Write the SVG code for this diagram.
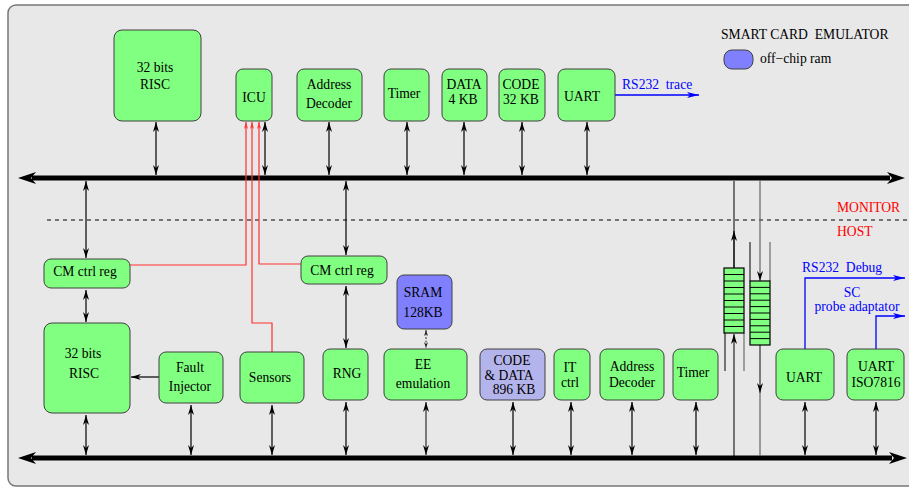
<svg xmlns="http://www.w3.org/2000/svg" width="909" height="488" viewBox="0 0 909 488">
<defs>
<style>
.n{fill:#80ff80;stroke:#404040;stroke-width:1}
.b{fill:#8080ff;stroke:#404040;stroke-width:1}
.l{fill:#b4b4ec;stroke:#404040;stroke-width:1}
text{font-family:"Liberation Serif","Times New Roman",serif;font-size:13.6px;fill:#000}
.c{text-anchor:middle}
.red{fill:#ff0000}
.blue{fill:#0000ff}
.a{stroke:#000;stroke-width:1.2;fill:none;marker-start:url(#ah);marker-end:url(#ah)}
.rl{stroke:#ff3030;stroke-width:1.2;fill:none}
.bl{stroke:#0000ff;stroke-width:1.3;fill:none;marker-end:url(#bh)}
.bus{stroke:#000;stroke-width:5}
.cell{stroke:#000;stroke-width:1}
</style>
<marker id="ah" viewBox="0 0 10 6" refX="10" refY="3" markerWidth="10" markerHeight="6" markerUnits="userSpaceOnUse" orient="auto-start-reverse"><path d="M0,0 L10,3 L0,6 L3,3 z" fill="#000"/></marker>
<marker id="sh" viewBox="0 0 6 4" refX="6" refY="2" markerWidth="6" markerHeight="4" markerUnits="userSpaceOnUse" orient="auto-start-reverse"><path d="M0,0 L6,2 L0,4 L2,2 z" fill="#222"/></marker>
<marker id="eh" viewBox="0 0 10 6" refX="10" refY="3" markerWidth="10" markerHeight="6" markerUnits="userSpaceOnUse" orient="auto"><path d="M0,0 L10,3 L0,6 L3,3 z" fill="#000"/></marker>
<marker id="rh" viewBox="0 0 7 4" refX="7" refY="2" markerWidth="7" markerHeight="4" markerUnits="userSpaceOnUse" orient="auto"><path d="M0,0 L7,2 L0,4 L2,2 z" fill="#ff3030"/></marker>
<marker id="bh" viewBox="0 0 12 6" refX="12" refY="3" markerWidth="12" markerHeight="6" markerUnits="userSpaceOnUse" orient="auto"><path d="M0,0 L12,3 L0,6 L3,3 z" fill="#0000ff"/></marker>
</defs>
<rect x="8" y="5" width="960" height="481" rx="8" fill="#e8e8e8" stroke="#777" stroke-width="1.5"/>

<g id="connectors">
<line class="bus" x1="32" y1="178" x2="890" y2="178"/>
<polygon points="18,178 36,172 31,178 36,184"/>
<polygon points="905,178 887,172 892,178 887,184"/>
<line class="bus" x1="32" y1="458" x2="892" y2="458"/>
<polygon points="18,458 36,452 31,458 36,464"/>
<polygon points="907,458 889,452 894,458 889,464"/>
<line x1="47" y1="220" x2="909" y2="220" stroke="#000" stroke-width="1" stroke-dasharray="4,4"/>

<line class="a" x1="156" y1="122" x2="156" y2="175"/>
<line class="a" x1="265" y1="122" x2="265" y2="175"/>
<line class="a" x1="329" y1="122" x2="329" y2="175"/>
<line class="a" x1="407" y1="122" x2="407" y2="175"/>
<line class="a" x1="464" y1="122" x2="464" y2="175"/>
<line class="a" x1="522" y1="122" x2="522" y2="175"/>
<line class="a" x1="587" y1="122" x2="587" y2="175"/>

<line class="a" x1="86" y1="181" x2="86" y2="258"/>
<line class="a" x1="86" y1="290" x2="86" y2="322"/>
<line class="a" x1="346" y1="181" x2="346" y2="255"/>
<line class="a" x1="346" y1="286" x2="346" y2="348"/>
<line x1="426" y1="330" x2="426" y2="348" stroke="#333" stroke-width="1" stroke-dasharray="2,1.5" marker-start="url(#sh)" marker-end="url(#sh)"/>

<line x1="159" y1="377" x2="131" y2="377" stroke="#000" stroke-width="1.2" marker-end="url(#eh)"/>

<line class="a" x1="86" y1="415" x2="86" y2="455"/>
<line class="a" x1="191" y1="405" x2="191" y2="455"/>
<line class="a" x1="272" y1="405" x2="272" y2="455"/>
<line class="a" x1="346" y1="402" x2="346" y2="455"/>
<line class="a" x1="426" y1="402" x2="426" y2="455" style="stroke:#555;stroke-width:1.5"/>
<line class="a" x1="513" y1="402" x2="513" y2="455"/>
<line class="a" x1="571" y1="402" x2="571" y2="455"/>
<line class="a" x1="632" y1="402" x2="632" y2="455"/>
<line class="a" x1="696" y1="402" x2="696" y2="455"/>
<line class="a" x1="805" y1="402" x2="805" y2="455"/>
<line class="a" x1="876" y1="402" x2="876" y2="455"/>

<path class="rl" d="M130,265 H246 V122" marker-end="url(#rh)"/>
<path class="rl" d="M272,352 V323 H252 V122" marker-end="url(#rh)"/>
<path class="rl" d="M301,264 H259 V122" marker-end="url(#rh)"/>

<path class="bl" d="M615,95 H699"/>
<path class="bl" d="M805,349 V278 H905"/>
<path class="bl" d="M876,349 V316 H905"/>

<line x1="734" y1="181" x2="734" y2="268" stroke="#000" stroke-width="1"/>
<line x1="734" y1="268" x2="734" y2="231" stroke="#000" stroke-width="1" marker-end="url(#eh)"/>
<line x1="734" y1="456" x2="734" y2="334" stroke="#000" stroke-width="1" marker-end="url(#eh)"/>
<line x1="725" y1="333" x2="725" y2="371" stroke="#000" stroke-width="1"/>
<line x1="744" y1="333" x2="744" y2="371" stroke="#555" stroke-width="1"/>
<line x1="760" y1="181" x2="760" y2="281" stroke="#666" stroke-width="1.2" marker-end="url(#eh)"/>
<line x1="760" y1="345" x2="760" y2="456" stroke="#666" stroke-width="1.2"/>
<line x1="760" y1="345" x2="760" y2="393" stroke="#666" stroke-width="1.2" marker-end="url(#eh)"/>
<line x1="750" y1="242" x2="750" y2="281" stroke="#000" stroke-width="1"/>
<line x1="770" y1="242" x2="770" y2="281" stroke="#555" stroke-width="1"/>
</g>

<g id="fifo-up">
<rect x="724" y="268" width="20" height="65" fill="#80ff80" stroke="#000" stroke-width="1.2"/>
<path class="cell" d="M724,274.5H744M724,281H744M724,287.5H744M724,294H744M724,300.5H744M724,307H744M724,313.5H744M724,320H744M724,326.5H744"/>
</g>
<g id="fifo-down">
<rect x="750" y="281" width="20" height="64" fill="#80ff80" stroke="#000" stroke-width="1.2"/>
<path class="cell" d="M750,287.4H770M750,293.8H770M750,300.2H770M750,306.6H770M750,313H770M750,319.4H770M750,325.8H770M750,332.2H770M750,338.6H770"/>
</g>

<g id="risc-top"><rect class="n" x="114" y="30" width="87" height="91" rx="8"/><text class="c" x="155" y="72">32 bits</text><text class="c" x="155" y="89">RISC</text></g>
<g id="icu"><rect class="n" x="236" y="69" width="36" height="52" rx="7"/><text class="c" x="254" y="102">ICU</text></g>
<g id="addr-top"><rect class="n" x="297" y="69" width="65" height="52" rx="7"/><text class="c" x="329" y="89">Address</text><text class="c" x="329" y="108">Decoder</text></g>
<g id="timer-top"><rect class="n" x="384" y="69" width="45" height="52" rx="7"/><text class="c" x="404" y="98">Timer</text></g>
<g id="data-top"><rect class="n" x="442" y="69" width="45" height="52" rx="7"/><text class="c" x="464" y="89">DATA</text><text class="c" x="463" y="104">4 KB</text></g>
<g id="code-top"><rect class="n" x="499" y="69" width="46" height="52" rx="7"/><text class="c" x="521" y="89">CODE</text><text class="c" x="521" y="104">32 KB</text></g>
<g id="uart-top"><rect class="n" x="558" y="69" width="57" height="52" rx="7"/><text class="c" x="582" y="101">UART</text></g>

<g id="legend">
<text x="721" y="39" xml:space="preserve">SMART CARD  EMULATOR</text>
<rect class="b" x="724" y="50" width="29" height="19" rx="8"/>
<text x="760" y="63">off−chip ram</text>
</g>

<text class="blue" x="622" y="89" xml:space="preserve">RS232  trace</text>
<text class="red" x="837" y="212">MONITOR</text>
<text class="red" x="837" y="236">HOST</text>
<text class="blue" x="802" y="272" xml:space="preserve">RS232  Debug</text>
<text class="blue c" x="852" y="297">SC</text>
<text class="blue c" x="857" y="311">probe adaptator</text>

<g id="cm-left"><rect class="n" x="44" y="259" width="86" height="29" rx="7"/><text class="c" x="85" y="276">CM ctrl reg</text></g>
<g id="cm-mid"><rect class="n" x="301" y="256" width="86" height="28" rx="7"/><text class="c" x="342" y="275">CM ctrl reg</text></g>
<g id="sram"><rect class="b" x="397" y="275" width="55" height="54" rx="7"/><text class="c" x="423" y="297">SRAM</text><text class="c" x="423" y="317">128KB</text></g>

<g id="risc-bottom"><rect class="n" x="44" y="323" width="86" height="90" rx="8"/><text class="c" x="83" y="358">32 bits</text><text class="c" x="84" y="378">RISC</text></g>
<g id="fault"><rect class="n" x="159" y="352" width="64" height="51" rx="7"/><text class="c" x="190" y="372">Fault</text><text class="c" x="190" y="391">Injector</text></g>
<g id="sensors"><rect class="n" x="240" y="352" width="64" height="51" rx="7"/><text class="c" x="270" y="382">Sensors</text></g>
<g id="rng"><rect class="n" x="323" y="349" width="45" height="51" rx="7"/><text class="c" x="347" y="378">RNG</text></g>
<g id="ee"><rect class="n" x="384" y="349" width="83" height="51" rx="7"/><text class="c" x="423" y="369">EE</text><text class="c" x="423" y="388">emulation</text></g>
<g id="codedata"><rect class="l" x="480" y="349" width="65" height="51" rx="7"/><text class="c" x="512" y="365">CODE</text><text class="c" x="509" y="379.5">&amp; DATA</text><text class="c" x="514" y="394">896 KB</text></g>
<g id="itctrl"><rect class="n" x="554" y="349" width="36" height="51" rx="7"/><text class="c" x="570" y="372">IT</text><text class="c" x="570" y="387">ctrl</text></g>
<g id="addr-bottom"><rect class="n" x="600" y="349" width="64" height="51" rx="7"/><text class="c" x="632" y="371">Address</text><text class="c" x="632" y="387">Decoder</text></g>
<g id="timer-bottom"><rect class="n" x="673" y="349" width="45" height="51" rx="7"/><text class="c" x="693" y="377">Timer</text></g>
<g id="uart-bottom"><rect class="n" x="776" y="349" width="58" height="51" rx="7"/><text class="c" x="804" y="382">UART</text></g>
<g id="uart-iso"><rect class="n" x="847" y="349" width="57" height="51" rx="7"/><text class="c" x="876" y="371">UART</text><text class="c" x="876" y="387">ISO7816</text></g>
</svg>
